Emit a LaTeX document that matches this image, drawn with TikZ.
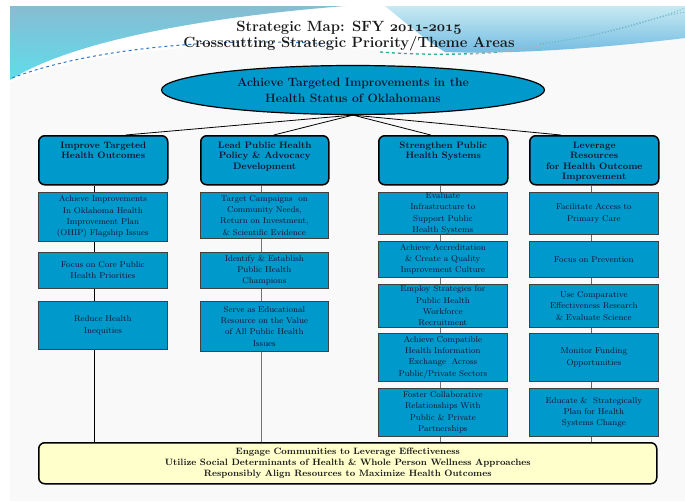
\documentclass[tikz,border=0pt]{standalone}
\usetikzlibrary{shapes.geometric,backgrounds,calc}
\definecolor{boxblue}{RGB}{0,153,204}
\definecolor{bgyellow}{RGB}{255,255,204}
\definecolor{txtnavy}{RGB}{20,20,45}
\definecolor{bggray}{RGB}{249,249,249}
\definecolor{swTop}{RGB}{135,188,210}
\definecolor{swBot}{RGB}{95,220,235}
\definecolor{swRTop}{RGB}{200,234,242}
\definecolor{swRBot}{RGB}{110,185,225}
\definecolor{dashA}{RGB}{50,120,200}
\definecolor{dashB}{RGB}{40,175,150}
\newcommand{\osnum}[1]{{\usefont{OML}{cmm}{b}{it}#1}}
\begin{document}
\begin{tikzpicture}[x=1pt,y=-1pt,
  hdr/.style={draw=black, line width=1.5pt, rounded corners=6pt, fill=boxblue,
    minimum width=129pt, minimum height=49pt, inner sep=0pt, anchor=north west},
  hdrtext/.style={anchor=north, inner sep=0pt, align=center, text=txtnavy,
    font=\fontsize{9.3}{10.6}\selectfont\bfseries},
  sbox/.style={draw=black!75, line width=0.7pt, fill=boxblue, minimum width=129pt,
    text width=127pt, align=center, inner sep=0pt, anchor=north west, text=txtnavy,
    font=\fontsize{8.45}{11.3}\selectfont},
  vline/.style={line width=0.8pt},
  spoke/.style={line width=0.8pt, black}]
\useasboundingbox (0,0) rectangle (685,501);
\begin{pgfonlayer}{background}
  \fill[white] (0,0) rectangle (685,501);
  \fill[bggray] (10,6) rectangle (685,501);
  \fill[white] (10,6) -- (685,6) -- (685,8) .. controls (580,40) and (470,56) .. (400,52)
     .. controls (230,36) and (90,50) .. (10,82) -- cycle;
  \shade[top color=swTop, bottom color=swBot] (10,6) -- (345,6) .. controls (170,20) and (60,48) .. (10,80) -- cycle;
  \shade[top color=swRTop, bottom color=swRBot] (385,6) -- (685,6) -- (685,38)
     .. controls (620,46) and (520,55) .. (445,52) .. controls (425,40) and (405,22) .. (385,6) -- cycle;
  \draw[dashA, dashed, line width=1pt] (12,78) .. controls (80,52) and (200,36) .. (330,44);
  \draw[dashB, dashed, line width=1.3pt] (380,52) .. controls (420,55) and (460,55) .. (500,52);
  \draw[black!30, dashed, line width=1pt] (470,54) .. controls (500,52) and (525,48) .. (545,45);
  \draw[dashB!80, dotted, line width=1pt] (540,44) .. controls (600,36) and (650,22) .. (685,8);
  \draw[dashA!60, dotted, line width=1pt] (590,36) .. controls (630,26) and (660,16) .. (685,12);
\end{pgfonlayer}

\node[align=center, text=black!90, font=\fontsize{14.8}{16}\selectfont\bfseries] (title) at (349,36.5)
  {Strategic Map: SFY \osnum{2011}-\osnum{2015}\\Crosscutting Strategic Priority/Theme Areas};

\node[ellipse, draw=black, line width=1.2pt, fill=boxblue, minimum width=383pt, minimum height=49pt,
  inner sep=0pt, align=center, text=txtnavy, font=\fontsize{12.1}{16}\selectfont\bfseries] (el) at (353,90)
  {Achieve Targeted Improvements in the\\Health Status of Oklahomans};

% headers
\node[hdr] (h1) at (38,135) {};
\node[hdr, minimum width=128pt] (h2) at (200,135) {};
\node[hdr] (h3) at (378,135) {};
\node[hdr] (h4) at (529,135) {};
\node[hdrtext] (t1) at ($(h1.north)+(0,6.5)$) {Improve Targeted\\Health Outcomes};
\node[hdrtext] (t2) at ($(h2.north)+(0,6.5)$) {Lead Public Health\\Policy \& Advocacy\\Development};
\node[hdrtext] (t3) at ($(h3.north)+(0,6.5)$) {Strengthen Public\\Health Systems};
\node[hdrtext] (t4) at ($(h4.north)+(0,6.5)$) {Leverage\\Resources\\for Health Outcome\\Improvement};

% column 1
\node[sbox, minimum height=49pt] (a1) at (38,192) {Achieve Improvements\\In Oklahoma Health\\Improvement Plan\\(OHIP) Flagship Issues};
\node[sbox, minimum height=36pt] (a2) at (38,252) {Focus on Core Public\\Health Priorities};
\node[sbox, minimum height=48pt] (a3) at (38,301) {Reduce Health\\Inequities};
% column 2
\node[sbox, minimum width=128pt, text width=126pt, minimum height=46pt] (b1) at (200,192) {Target Campaigns\ \ on\\Community Needs,\\Return on Investment,\\\& Scientific Evidence};
\node[sbox, minimum width=128pt, text width=126pt, minimum height=36pt] (b2) at (200,252) {Identify \& Establish\\Public Health\\Champions};
\node[sbox, minimum width=128pt, text width=126pt, minimum height=50pt] (b3) at (200,301) {Serve as Educational\\Resource on the Value\\of All Public Health\\Issues};
% column 3
\node[sbox, minimum height=42pt] (c1) at (378,192) {Evaluate\\Infrastructure to\\Support Public\\Health Systems};
\node[sbox, minimum height=36pt] (c2) at (378,241) {Achieve Accreditation\\\& Create a Quality\\Improvement Culture};
\node[sbox, minimum height=43pt] (c3) at (378,284) {Employ Strategies for\\Public Health\\Workforce\\Recruitment};
\node[sbox, minimum height=48pt] (c4) at (378,333) {Achieve Compatible\\Health Information\\Exchange\ \ Across\\Public/Private Sectors};
\node[sbox, minimum height=48pt] (c5) at (378,388) {Foster Collaborative\\Relationships With\\Public \& Private\\Partnerships};
% column 4
\node[sbox, minimum height=42pt] (d1) at (529,192) {Facilitate Access to\\Primary Care};
\node[sbox, minimum height=36pt] (d2) at (529,241) {Focus on Prevention};
\node[sbox, minimum height=43pt] (d3) at (529,284) {Use Comparative\\Effectiveness Research\\\& Evaluate Science};
\node[sbox, minimum height=48pt] (d4) at (529,333) {Monitor Funding\\Opportunities};
\node[sbox, minimum height=48pt] (d5) at (529,388) {Educate \&\ \ Strategically\\Plan for Health\\Systems Change};

% bottom box
\node[draw=black, line width=1.5pt, rounded corners=6pt, fill=bgyellow, minimum width=618pt,
  minimum height=41pt, anchor=north west, inner sep=0pt, align=center, text=black!90,
  font=\fontsize{9.2}{11}\selectfont\bfseries] (bot) at (38,442)
  {Engage Communities to Leverage Effectiveness\\Utilize Social Determinants of Health \& Whole Person Wellness Approaches\\Responsibly Align Resources to Maximize Health Outcomes};

% spokes
\draw[spoke] (el.south) -- ([xshift=22.5pt]h1.north);
\draw[spoke] (el.south) -- ([xshift=9pt]h2.north);
\draw[spoke] (el.south) -- ([xshift=-12.5pt]h3.north);
\draw[spoke] (el.south) -- ([xshift=-33.5pt]h4.north);

% column lines
\begin{pgfonlayer}{background}
  \draw[vline, black] ([xshift=-8.5pt]h1.south) -- ([xshift=-8.5pt]h1.south |- bot.north);
  \draw[vline, black!55] ([xshift=-3pt]h2.south) -- ([xshift=-3pt]h2.south |- bot.north);
  \draw[vline, black!55] ([xshift=-2.5pt]h3.south) -- ([xshift=-2.5pt]h3.south |- bot.north);
  \draw[vline, black!60] ([xshift=-2.5pt]h4.south) -- ([xshift=-2.5pt]h4.south |- bot.north);
\end{pgfonlayer}
\end{tikzpicture}
\end{document}
